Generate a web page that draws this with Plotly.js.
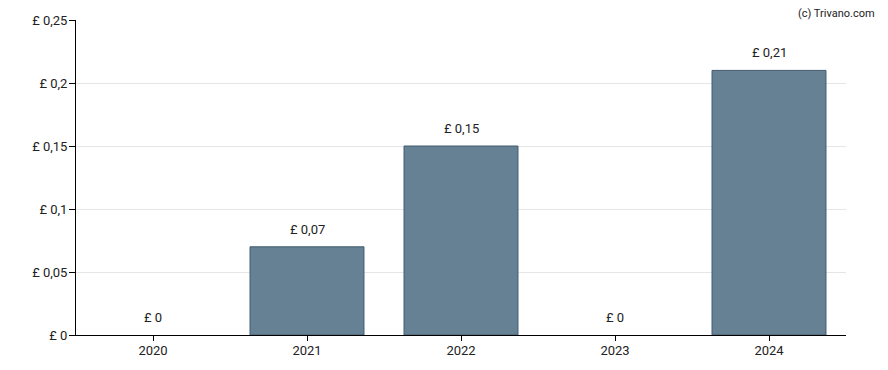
<!DOCTYPE html>
<html><head><meta charset="utf-8">
<script src="https://cdn.plot.ly/plotly-3.0.1.min.js"></script>
<style>body{margin:0;background:#fff}#c{width:888px;height:370px}</style>
</head><body><div id="c"></div>
<script>
const years = ['2020','2021','2022','2023','2024'];
const dividends = [0, 0.07, 0.15, 0, 0.21];
const labels = ['£ 0','£ 0,07','£ 0,15','£ 0','£ 0,21'];
const yTicks = [0, 0.05, 0.1, 0.15, 0.2, 0.25];
const yTickText = ['£ 0','£ 0,05','£ 0,1','£ 0,15','£ 0,2','£ 0,25'];

const font = {family:'Roboto, sans-serif', size:13, color:'#222'};
const trace = {
  type:'bar', x:years, y:dividends, width:0.74,
  marker:{color:'rgb(102,129,147)', line:{color:'rgb(65,92,112)', width:dividends.map(v=>v>0?1:0)}},
  hoverinfo:'none'
};
const annotations = years.map((yr,i)=>({
  x:i, y:dividends[i], xref:'x', yref:'y', text:labels[i], showarrow:false,
  yanchor:'bottom', yshift:8, font:font
}));
annotations.push({xref:'paper', yref:'paper', x:1.04, y:1.0, xanchor:'right', yanchor:'bottom',
  yshift:-2, text:'(c) Trivano.com', showarrow:false, font:{family:'Roboto, sans-serif', size:11, color:'#222'}});
const layout = {
  width:888, height:370, margin:{l:76, r:42, t:20, b:35},
  paper_bgcolor:'#fff', plot_bgcolor:'#fff', font:font, showlegend:false,
  xaxis:{type:'category', range:[-0.5, years.length-0.5], showline:true, linecolor:'#000', linewidth:1, ticks:'outside', ticklen:5,
    ticklabelstandoff:-2, tickcolor:'#000', showgrid:false, tickfont:font, fixedrange:true},
  yaxis:{range:[0,0.25], tickvals:yTicks, ticktext:yTickText, showline:true, linecolor:'#000', linewidth:1,
    ticks:'outside', ticklen:6, ticklabelstandoff:-1, tickcolor:'#000', gridcolor:'#e6e6e6', zeroline:false, tickfont:font, fixedrange:true},
  annotations:annotations
};
Plotly.newPlot('c',[trace],layout,{displayModeBar:false,staticPlot:true});
</script></body></html>
